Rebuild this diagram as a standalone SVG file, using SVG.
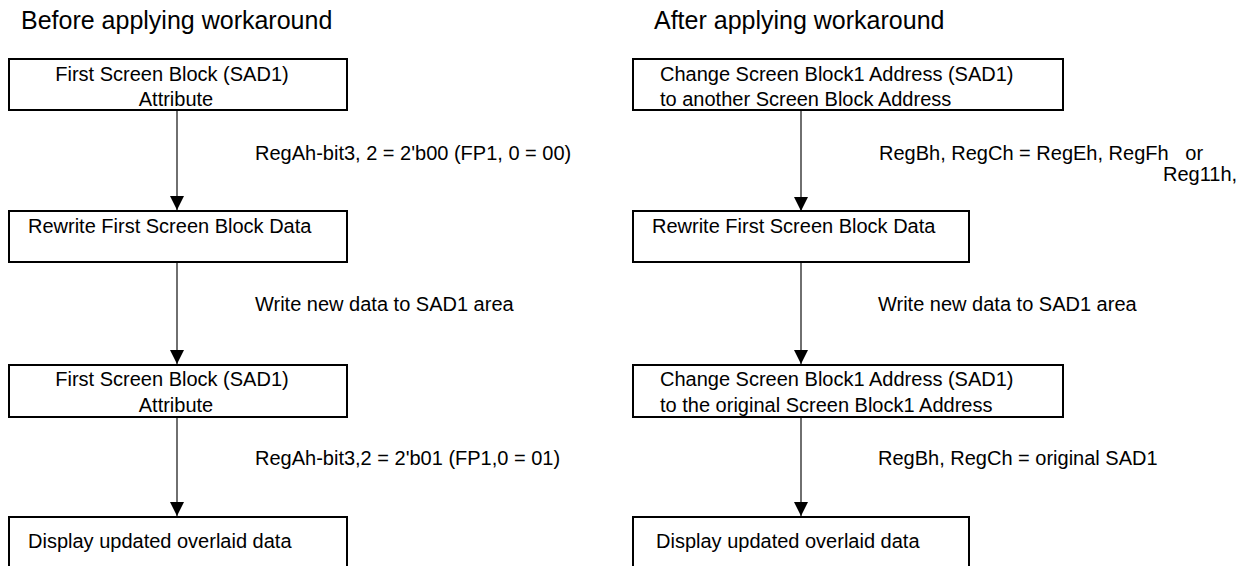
<svg xmlns="http://www.w3.org/2000/svg" width="1256" height="566" viewBox="0 0 1256 566">
<defs>
<style>
.box{fill:#fff;stroke:#000;stroke-width:2}
.t{font-family:"Liberation Sans",Arial,sans-serif;font-size:20px;fill:#000}
.title{font-family:"Liberation Sans",Arial,sans-serif;font-size:25px;fill:#000}
.c{stroke:#222;stroke-width:1.3;fill:none}
</style>
<marker id="ah" markerWidth="14" markerHeight="14" refX="14" refY="7" orient="auto" markerUnits="userSpaceOnUse">
<path d="M0,0 L14,7 L0,14 Z" fill="#000"/>
</marker>
</defs>
<rect width="1256" height="566" fill="#fff"/>
<text class="title" x="21" y="29">Before applying workaround</text>
<text class="title" x="654" y="29">After applying workaround</text>

<g id="connectors">
<line class="c" x1="177" y1="110" x2="177" y2="210" marker-end="url(#ah)"/>
<line class="c" x1="177" y1="262" x2="177" y2="364" marker-end="url(#ah)"/>
<line class="c" x1="177" y1="417" x2="177" y2="516" marker-end="url(#ah)"/>
<line class="c" x1="801" y1="110" x2="801" y2="211" marker-end="url(#ah)"/>
<line class="c" x1="801" y1="262" x2="801" y2="364" marker-end="url(#ah)"/>
<line class="c" x1="801" y1="417" x2="801" y2="516" marker-end="url(#ah)"/>
<text class="t" x="255" y="160">RegAh-bit3, 2 = 2'b00 (FP1, 0 = 00)</text>
<text class="t" x="255" y="311">Write new data to SAD1 area</text>
<text class="t" x="255" y="465">RegAh-bit3,2 = 2'b01 (FP1,0 = 01)</text>
<text class="t" x="879" y="160" xml:space="preserve">RegBh, RegCh = RegEh, RegFh   or</text>
<text class="t" x="1163" y="181">Reg11h,</text>
<text class="t" x="878" y="311">Write new data to SAD1 area</text>
<text class="t" x="878" y="465">RegBh, RegCh = original SAD1</text>
</g>

<g id="l1">
<rect class="box" x="9" y="59" width="338" height="51"/>
<text class="t" x="172" y="81" text-anchor="middle">First Screen Block (SAD1)</text>
<text class="t" x="176" y="106" text-anchor="middle">Attribute</text>
</g>
<g id="l2">
<rect class="box" x="9" y="211" width="338" height="51"/>
<text class="t" x="28" y="233">Rewrite First Screen Block Data</text>
</g>
<g id="l3">
<rect class="box" x="9" y="365" width="338" height="52"/>
<text class="t" x="172" y="386" text-anchor="middle">First Screen Block (SAD1)</text>
<text class="t" x="176" y="412" text-anchor="middle">Attribute</text>
</g>
<g id="l4">
<rect class="box" x="9" y="517" width="338" height="60"/>
<text class="t" x="28" y="548">Display updated overlaid data</text>
</g>

<g id="r1">
<rect class="box" x="633" y="59" width="430" height="51"/>
<text class="t" x="660" y="81">Change Screen Block1 Address (SAD1)</text>
<text class="t" x="660" y="106">to another Screen Block Address</text>
</g>
<g id="r2">
<rect class="box" x="633" y="211" width="336" height="51"/>
<text class="t" x="652" y="233">Rewrite First Screen Block Data</text>
</g>
<g id="r3">
<rect class="box" x="633" y="365" width="430" height="52"/>
<text class="t" x="660" y="386">Change Screen Block1 Address (SAD1)</text>
<text class="t" x="660" y="412">to the original Screen Block1 Address</text>
</g>
<g id="r4">
<rect class="box" x="633" y="517" width="336" height="60"/>
<text class="t" x="656" y="548">Display updated overlaid data</text>
</g>
</svg>
